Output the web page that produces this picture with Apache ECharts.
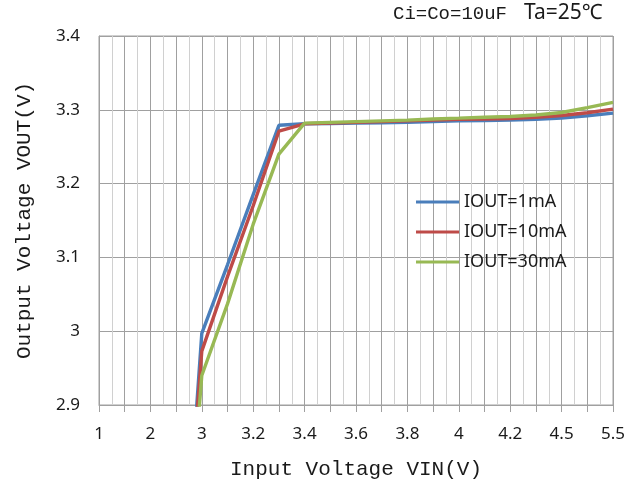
<!DOCTYPE html>
<html>
<head>
<meta charset="utf-8">
<script src="https://cdn.jsdelivr.net/npm/echarts@6/dist/echarts.min.js"></script>
<style>
html,body{margin:0;padding:0;background:#fff;}
#chart{width:643px;height:486px;}
</style>
</head>
<body>
<div id="chart"></div>
<script>
// Input voltage categories (VIN, V)
var categories = ['1','1.5','2','2.5','3','3.1','3.2','3.3','3.4','3.5','3.6','3.7','3.8','3.9','4','4.1','4.2','4.3','4.5','5','5.5'];
// Output voltage series (VOUT, V)
var iout1mA  = [0.99,1.49,1.99,2.50,2.997,3.090,3.185,3.279,3.281,3.2815,3.282,3.2825,3.283,3.284,3.285,3.2855,3.286,3.287,3.2887,3.292,3.2955];
var iout10mA = [0.99,1.49,1.99,2.52,2.973,3.074,3.170,3.271,3.281,3.282,3.283,3.284,3.285,3.286,3.287,3.2875,3.288,3.290,3.2923,3.296,3.301];
var iout30mA = [0.99,1.49,1.99,2.50,2.940,3.037,3.145,3.240,3.282,3.283,3.284,3.285,3.286,3.2875,3.2887,3.290,3.291,3.293,3.2964,3.303,3.310];
var seriesNames = ['IOUT=1mA','IOUT=10mA','IOUT=30mA'];
var seriesColors = ['#4a7ebb','#be4b48','#98b954'];
var yTicks = {min: 2.9, max: 3.4, interval: 0.1};

function pairs(vals){ return categories.map(function(c,i){ return [i, vals[i]]; }); }

var chart = echarts.init(document.getElementById('chart'), null, {renderer:'canvas'});
var allVals = [iout1mA, iout10mA, iout30mA];
chart.setOption({
  animation: false,
  backgroundColor: '#fff',
  title: {
    text: '{a|Ci=Co=10uF}{b|Ta=25℃}',
    left: 393, top: 3, padding: 0,
    textStyle: {
      rich: {
        a: {fontFamily: '"Liberation Mono", monospace', fontSize: 19, fontWeight: 'normal', color: '#1a1a1a'},
        b: {fontFamily: '"Noto Sans", sans-serif', fontSize: 21, fontWeight: 'normal', color: '#1a1a1a', padding: [0,0,0,17]}
      }
    }
  },
  legend: {
    orient: 'vertical',
    left: 416, top: 193, padding: 0,
    itemWidth: 43, itemHeight: 18, itemGap: 12,
    icon: 'path://M0,0L44,0L44,3L0,3Z',
    textStyle: {fontFamily: '"Noto Sans", sans-serif', fontSize: 18, color: '#1a1a1a'},
    data: seriesNames
  },
  grid: {left: 99, right: 30, top: 36, bottom: 81, show: true, borderColor: '#a0a0a0', borderWidth: 1},
  xAxis: {
    type: 'value', min: 0, max: categories.length - 1, interval: 1,
    name: 'Input Voltage VIN(V)', nameLocation: 'middle', nameGap: 54,
    nameTextStyle: {fontFamily: '"Liberation Mono", monospace', fontSize: 21, color: '#1a1a1a'},
    axisLine: {show: true, lineStyle: {color: '#a0a0a0', width: 1}},
    axisTick: {show: true, length: 7, lineStyle: {color: '#a0a0a0'}},
    minorTick: {show: false, splitNumber: 2},
    minorSplitLine: {show: true, lineStyle: {color: '#d0d0d0', width: 1}},
    splitLine: {show: true, lineStyle: {color: '#a0a0a0', width: 1}},
    axisLabel: {
      margin: 21,
      fontFamily: '"Noto Sans", sans-serif', fontSize: 17, color: '#1a1a1a',
      formatter: function(v){ var i = Math.round(v); return (i % 2 === 0) ? categories[i] : ''; }
    }
  },
  yAxis: {
    type: 'value', min: yTicks.min, max: yTicks.max, interval: yTicks.interval,
    name: 'Output Voltage VOUT(V)', nameLocation: 'middle', nameGap: 64,
    nameTextStyle: {fontFamily: '"Liberation Mono", monospace', fontSize: 21, color: '#1a1a1a'},
    axisLine: {show: true, lineStyle: {color: '#a0a0a0', width: 1}},
    axisTick: {show: false},
    splitLine: {show: true, lineStyle: {color: '#a0a0a0', width: 1}},
    axisLabel: {
      margin: 19,
      fontFamily: '"Noto Sans", sans-serif', fontSize: 17, color: '#1a1a1a',
      formatter: function(v){ return String(Math.round(v*10)/10); }
    }
  },
  series: seriesNames.map(function(n, k){
    return {
      name: n, type: 'line', data: pairs(allVals[k]),
      symbol: 'none', clip: true,
      lineStyle: {width: 3.4, color: seriesColors[k]},
      itemStyle: {color: seriesColors[k]}
    };
  })
});
</script>
</body>
</html>
